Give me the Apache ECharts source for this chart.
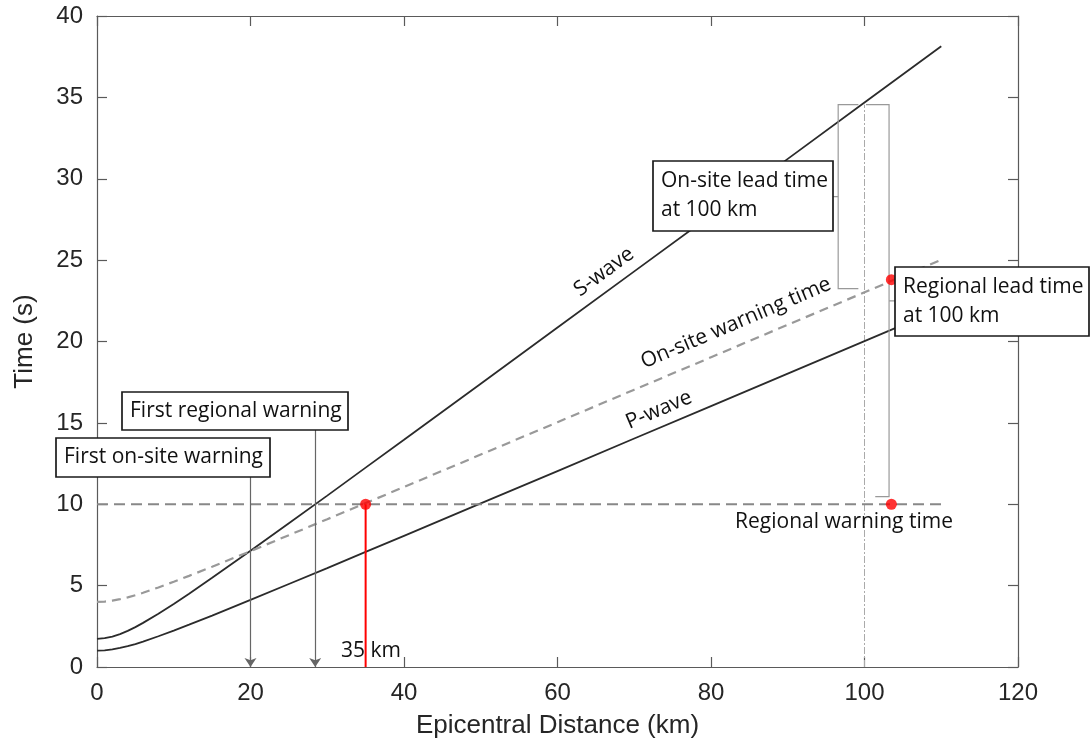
<!DOCTYPE html>
<html>
<head>
<meta charset="utf-8">
<script src="https://cdn.jsdelivr.net/npm/echarts@6/dist/echarts.min.js"></script>
<style>
html,body{margin:0;padding:0;background:#fff;}
#chart{width:1090px;height:744px;}
</style>
</head>
<body>
<div id="chart"></div>
<script>
// ---- data ----
const distances = [0,1,2,3,4,5,6,8,10,12,15,20,25,30,35,40,50,60,70,80,90,100,110];
const sWave = [1.73,1.77,1.87,2.02,2.22,2.45,2.71,3.27,3.87,4.50,5.48,7.14,8.83,10.53,12.25,13.96,17.41,20.86,24.31,27.76,31.22,34.68,38.14];
const pWave = [1.00,1.02,1.08,1.17,1.28,1.41,1.56,1.89,2.24,2.60,3.16,4.12,5.10,6.08,7.07,8.06,10.05,12.04,14.04,16.03,18.03,20.02,22.02];
const onsiteWarning = [4.00,4.02,4.08,4.17,4.28,4.41,4.56,4.89,5.24,5.60,6.16,7.12,8.10,9.08,10.07,11.06,13.05,15.04,17.04,19.03,21.03,23.02,25.02];
const regionalX = [0,110];
const regionalY = [10,10];
const xTicks = [0,20,40,60,80,100,120];
const yTicks = [0,5,10,15,20,25,30,35,40];
const firstOnsiteArrow = [[20,11.7],[20,0]];
const firstRegionalArrow = [[28.43,14.58],[28.43,0]];
const redLine35 = [[35,0],[35,10]];
const redDots = [[35,10],[103.5,23.8],[103.5,10]];
const lineAt100 = [[100,0],[100,34.55]];
const onsiteBracket = [[99.2,34.55],[96.57,34.55],[96.57,23.25],[99.2,23.25]];
const onsiteBracketTick = [[95.9,28.9],[96.57,28.9]];
const regionalBracket = [[100.2,34.55],[103.2,34.55],[103.2,10.47],[101.4,10.47]];
const regionalBracketTick = [[103.2,22.5],[104.0,22.5]];

const pairs = (xs, ys) => xs.map((x,i)=>[x, ys[i]]);

const chart = echarts.init(document.getElementById('chart'), null, {renderer:'canvas'});
const axisColor = '#5a5a5a';
const labelColor = '#262626';
const tickFont = 'Liberation Sans, Arial, sans-serif';
const annFont = '"Open Sans", "Noto Sans", sans-serif';

const baseX = {
  type:'value', min:0, max:120, interval:20,
  axisLine:{show:true, onZero:false, lineStyle:{color:axisColor, width:1.2}},
  axisTick:{show:true, inside:true, length:10, lineStyle:{color:axisColor, width:1.2}},
  splitLine:{show:false}
};
const baseY = {
  type:'value', min:0, max:40, interval:5,
  axisLine:{show:true, onZero:false, lineStyle:{color:axisColor, width:1.2}},
  axisTick:{show:true, inside:true, length:10, lineStyle:{color:axisColor, width:1.2}},
  splitLine:{show:false}
};

const option = {
  animation:false,
  backgroundColor:'#fff',
  grid:{left:97, right:72, top:16, bottom:77},
  xAxis:[
    Object.assign({}, baseX, {
      position:'bottom',
      name:'Epicentral Distance (km)', nameLocation:'middle', nameGap:46,
      nameTextStyle:{fontFamily:tickFont, fontSize:26, color:labelColor},
      axisLabel:{fontFamily:tickFont, fontSize:24, color:labelColor, margin:14,
        formatter:(v)=> xTicks.includes(v) ? String(v) : ''}
    }),
    Object.assign({}, baseX, {position:'top', axisLabel:{show:false}})
  ],
  yAxis:[
    Object.assign({}, baseY, {
      position:'left',
      name:'Time (s)', nameLocation:'middle', nameGap:59,
      nameTextStyle:{fontFamily:tickFont, fontSize:26, color:labelColor},
      axisLabel:{fontFamily:tickFont, fontSize:24, color:labelColor, margin:14,
        formatter:(v)=> yTicks.includes(v) ? String(v) : ''}
    }),
    Object.assign({}, baseY, {position:'right', axisLabel:{show:false}})
  ],
  series:[
    {type:'line', name:'S-wave', data:pairs(distances, sWave), showSymbol:false, smooth:false,
      lineStyle:{color:'#2b2b2b', width:1.8}, z:3},
    {type:'line', name:'P-wave', data:pairs(distances, pWave), showSymbol:false,
      lineStyle:{color:'#2b2b2b', width:1.8}, z:3},
    {type:'line', name:'On-site warning time', data:pairs(distances, onsiteWarning), showSymbol:false,
      lineStyle:{color:'#999', width:2.2, type:[9,6]}, z:3},
    {type:'line', name:'Regional warning time', data:pairs(regionalX, regionalY), showSymbol:false,
      lineStyle:{color:'#888', width:2.2, type:[11,6]}, z:3},
    {type:'line', data:lineAt100, showSymbol:false,
      lineStyle:{color:'#aaa', width:1, type:[7,2,2,2]}, z:2},
    {type:'line', data:redLine35, showSymbol:false,
      lineStyle:{color:'#ff0000', width:2}, z:4},
    {type:'lines', coordinateSystem:'cartesian2d', polyline:false,
      symbol:['none','arrow'], symbolSize:[1,9],
      lineStyle:{color:'#666', width:1.2, opacity:1},
      data:[{coords:firstOnsiteArrow},{coords:firstRegionalArrow}], z:4},
    {type:'lines', coordinateSystem:'cartesian2d', polyline:true,
      lineStyle:{color:'#999', width:1.2, opacity:1},
      data:[{coords:onsiteBracket},{coords:onsiteBracketTick},{coords:regionalBracket},{coords:regionalBracketTick}], z:4},
    {type:'scatter', data:redDots, symbolSize:11, itemStyle:{color:'#ff0000'}, z:6}
  ]
};
chart.setOption(option);

// ---- annotations ----
const FS = 21;
function box(x1,y1,x2,y2,lines){
  const els = [{type:'rect', shape:{x:x1,y:y1,width:x2-x1,height:y2-y1},
    style:{fill:'#fff', stroke:'#1a1a1a', lineWidth:1.7}, z:100}];
  els.push({type:'text', x:x1+8, y:(y1+y2)/2, z:101,
    style:{text:lines.join('\n'), font:FS+'px '+annFont, fill:'#111', align:'left', verticalAlign:'middle', lineHeight:29}});
  return els;
}
function rotText(txt, x, y, deg){
  return {type:'text', x:x, y:y, rotation:deg*Math.PI/180, z:50,
    style:{text:txt, font:FS+'px '+annFont, fill:'#111', align:'center', verticalAlign:'middle'}};
}
const graphics = [].concat(
  box(122,392,348,430,['First regional warning']),
  box(56,438,270,477,['First on-site warning']),
  box(653,161,833,231,['On-site lead time','at 100 km']),
  box(895,267,1089,336,['Regional lead time','at 100 km']),
  [rotText('S-wave', 604, 272, 36.2),
   rotText('On-site warning time', 736, 323, 23),
   rotText('P-wave', 659, 410, 23),
   {type:'text', x:844, y:522, z:50, style:{text:'Regional warning time', font:FS+'px '+annFont, fill:'#111', align:'center', verticalAlign:'middle'}},
   {type:'text', x:371, y:651, z:50, style:{text:'35 km', font:FS+'px '+annFont, fill:'#111', align:'center', verticalAlign:'middle'}}]
);
chart.setOption({graphic:graphics});
</script>
</body>
</html>
